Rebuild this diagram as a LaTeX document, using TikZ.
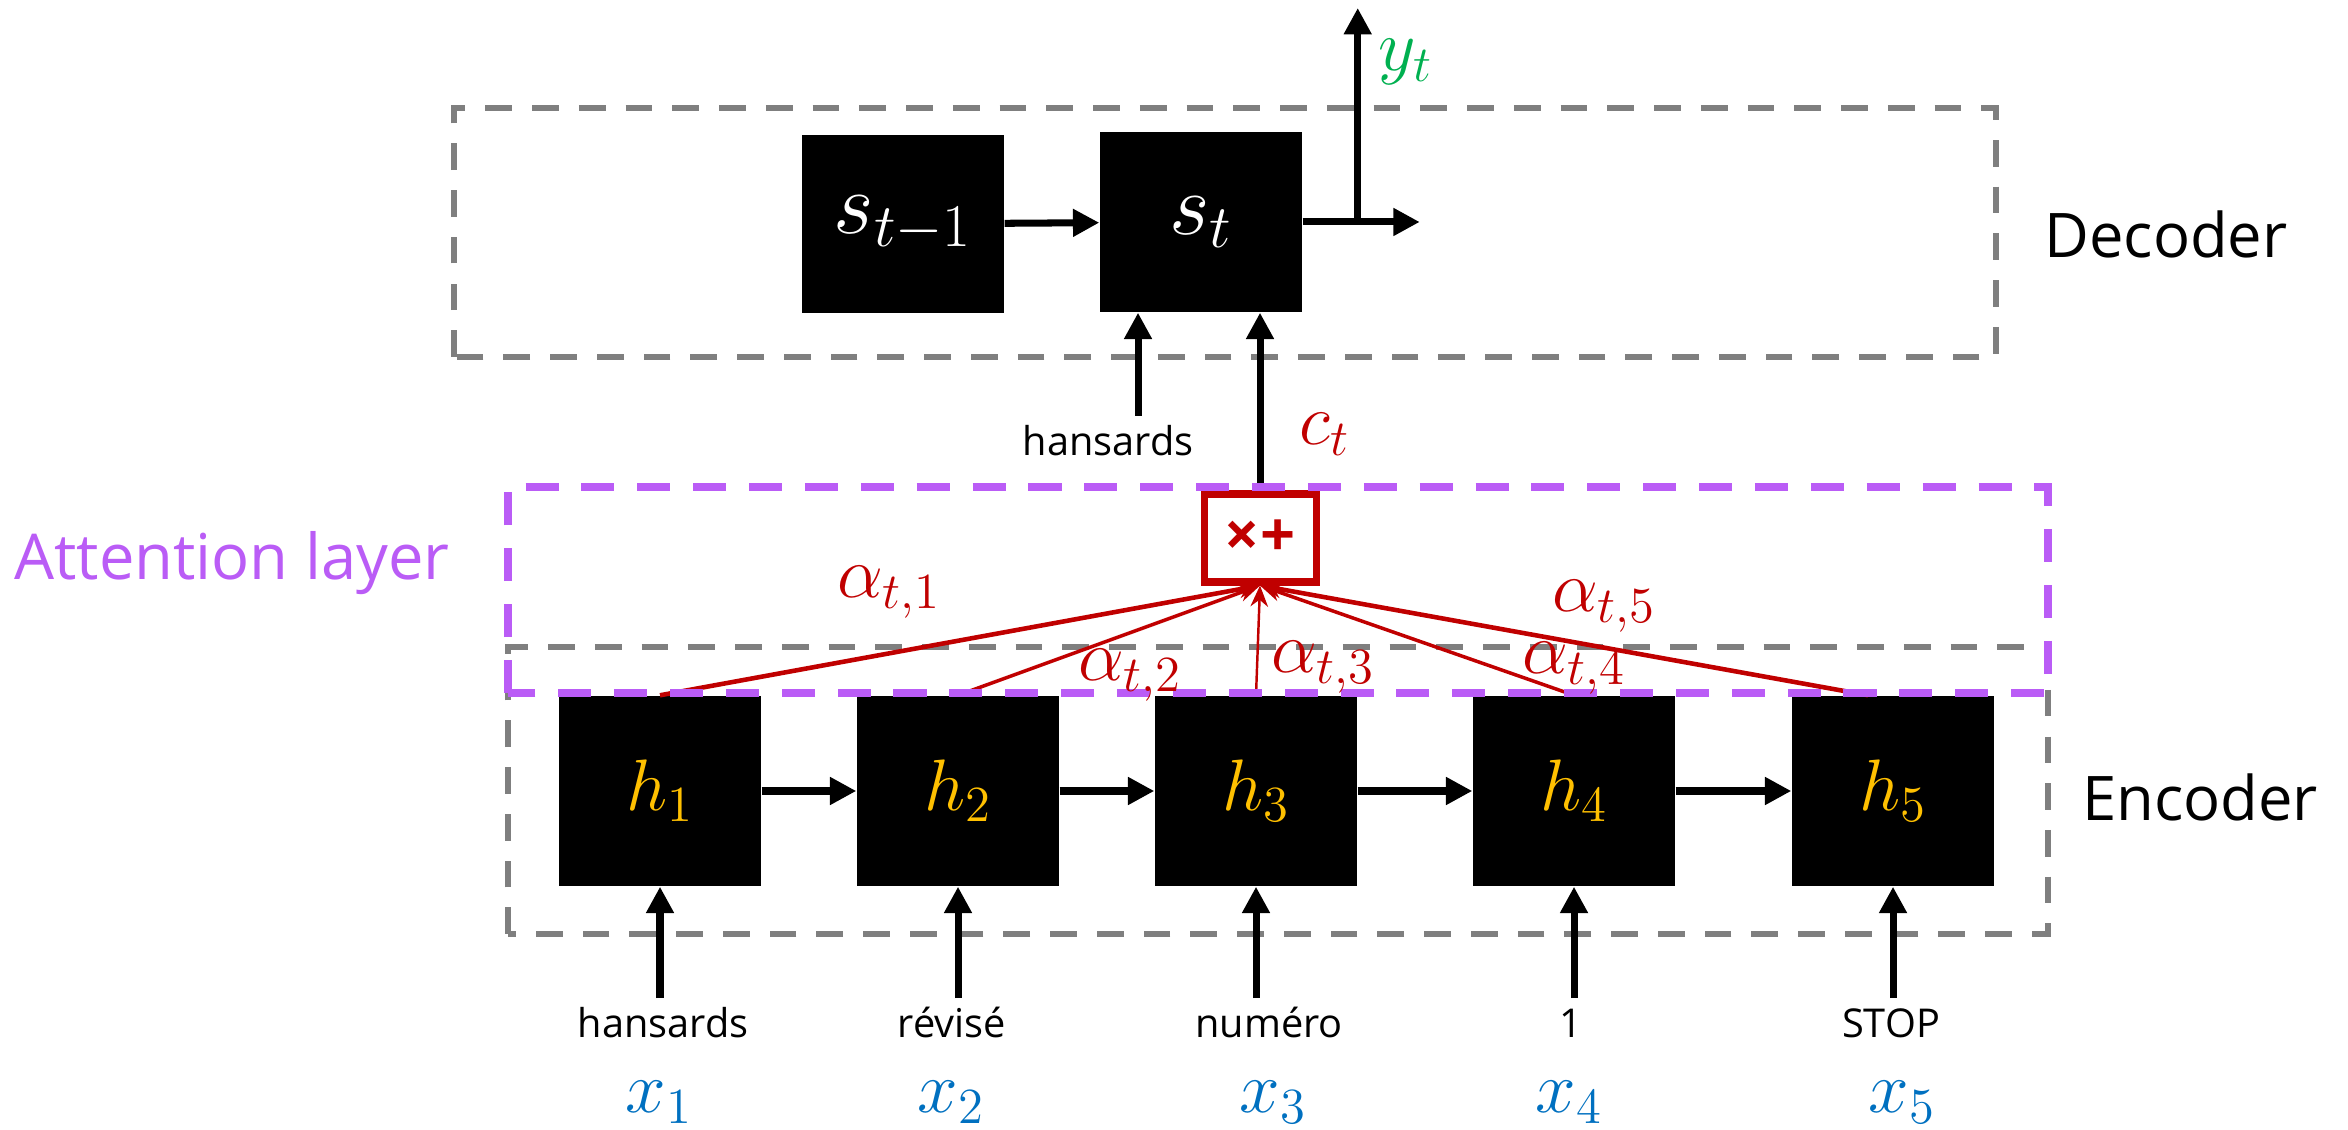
\documentclass[tikz,border=0pt]{standalone}
\usepackage{amsmath}
\usepackage{fontspec}
\setsansfont{Open Sans}
\usetikzlibrary{arrows.meta,positioning,calc}
\definecolor{framegray}{HTML}{7F7F7F}
\definecolor{attnpurple}{HTML}{BA5CF6}
\definecolor{attnred}{HTML}{C00000}
\definecolor{hyellow}{HTML}{FFC000}
\definecolor{xblue}{HTML}{0070C0}
\definecolor{ygreen}{HTML}{00B050}

\begin{document}
\begin{tikzpicture}[
  x=1cm,y=1cm,
  font=\sffamily,
  cell/.style={fill=black,text=white,minimum width=2.02cm,minimum height=1.9cm,
               inner sep=0pt,font=\fontsize{20}{24}\selectfont},
  frame/.style={draw=framegray,line width=1.6pt,dash pattern=on 7.6pt off 5.7pt},
  attnframe/.style={draw=attnpurple,line width=2.1pt,dash pattern=on 9.4pt off 6.5pt},
  arrow/.style={-{Triangle[length=7.5pt,width=7.5pt]},line width=2pt,draw=black},
  weight/.style={-{Stealth[length=6pt,width=5pt]},draw=attnred},
  word/.style={font=\sffamily\fontsize{11.3}{13}\selectfont,text height=8pt,
               text depth=2pt,inner sep=3pt,anchor=north},
  mathlbl/.style={font=\fontsize{20}{24}\selectfont,inner sep=1pt},
  side/.style={font=\sffamily\fontsize{17.5}{21}\selectfont}
]
\useasboundingbox (0,0) rectangle (23.48,11.29);

% Frames
\draw[frame] (4.54,7.72) rectangle (19.96,10.21);
\draw[frame] (5.08,1.95) rectangle (20.48,4.82);
\node[side] at (21.66,8.95) {Decoder};
\node[side] at (22.00,3.32) {Encoder};
\node[side,text=attnpurple,font=\sffamily\fontsize{18}{22}\selectfont] at (2.32,5.66)
  {Attention layer};

% Decoder
\node[cell,minimum height=1.78cm,font=\fontsize{23}{27}\selectfont] (sprev) at (9.03,9.05) {$s_{t-1}$};
\node[cell,minimum height=1.80cm,font=\fontsize{23}{27}\selectfont] (scur) at (12.01,9.07) {$s_t$};
\draw[arrow] (sprev) -- (scur);
\draw[arrow] (scur.east) -- ++(1.17,0);
\coordinate (ybr) at ($(scur.east)+(0.55,0)$);
\draw[arrow] (ybr) -- ++(0,2.14);
\node[mathlbl,text=ygreen] (yt) at (14.06,10.67) {$y_t$};
\node[word] (wdec) at (11.08,7.13) {hansards};
\coordinate (din) at ($(wdec.north)+(0.30,0)$);
\draw[arrow] (din) -- (din |- scur.south);

% Encoder
\foreach \i/\x in {1/6.60,2/9.58,3/12.56,4/15.74,5/18.93}
  \node[cell] (h\i) at (\x,3.38) {\textcolor{hyellow}{$h_{\i}$}};
\foreach \i/\j in {1/2,2/3,3/4,4/5}
  \draw[arrow] (h\i) -- (h\j);
\foreach \i/\x/\w in {1/6.63/hansards,2/9.52/révisé,3/12.69/numéro,4/15.71/1,5/18.91/STOP}
{
  \node[word] (w\i) at (\x,1.31) {\w};
  \draw[arrow] (w\i.north -| h\i.south) -- (h\i.south);
}
\foreach \i/\x in {1/6.59,2/9.51,3/12.73,4/15.69,5/19.02}
  \node[mathlbl,text=xblue] (x\i) at (\x,0.27) {$x_{\i}$};

% Attention layer
\node[draw=attnred,line width=2pt,fill=white,minimum width=1.12cm,minimum height=0.88cm,
      inner sep=0pt,text=attnred,font=\sffamily\bfseries\fontsize{17.5}{20}\selectfont]
  (comb) at (12.60,5.91) {×+};
\draw[arrow] (comb.north) -- (comb.north |- scur.south);
\node[mathlbl,text=attnred] (ct) at (13.25,6.95) {$c_t$};
\draw[weight,line width=1.3pt] (h1.north) -- (comb.south);
\draw[weight,line width=1.0pt] (h2.north) -- (comb.south);
\draw[weight,line width=0.7pt] (h3.north) -- (comb.south);
\draw[weight,line width=1.0pt] (h4.north) -- (comb.south);
\draw[weight,line width=1.3pt] ($(h5.north)+(-0.25,0)$) -- (comb.south);
\draw[attnframe] (5.08,4.36) rectangle (20.48,6.42);
\node[mathlbl,text=attnred] (a1) at (8.89,5.37) {$\alpha_{t,1}$};
\node[mathlbl,text=attnred] (a2) at (11.30,4.54) {$\alpha_{t,2}$};
\node[mathlbl,text=attnred] (a3) at (13.23,4.62) {$\alpha_{t,3}$};
\node[mathlbl,text=attnred] (a4) at (15.74,4.61) {$\alpha_{t,4}$};
\node[mathlbl,text=attnred] (a5) at (16.04,5.23) {$\alpha_{t,5}$};
\end{tikzpicture}
\end{document}
